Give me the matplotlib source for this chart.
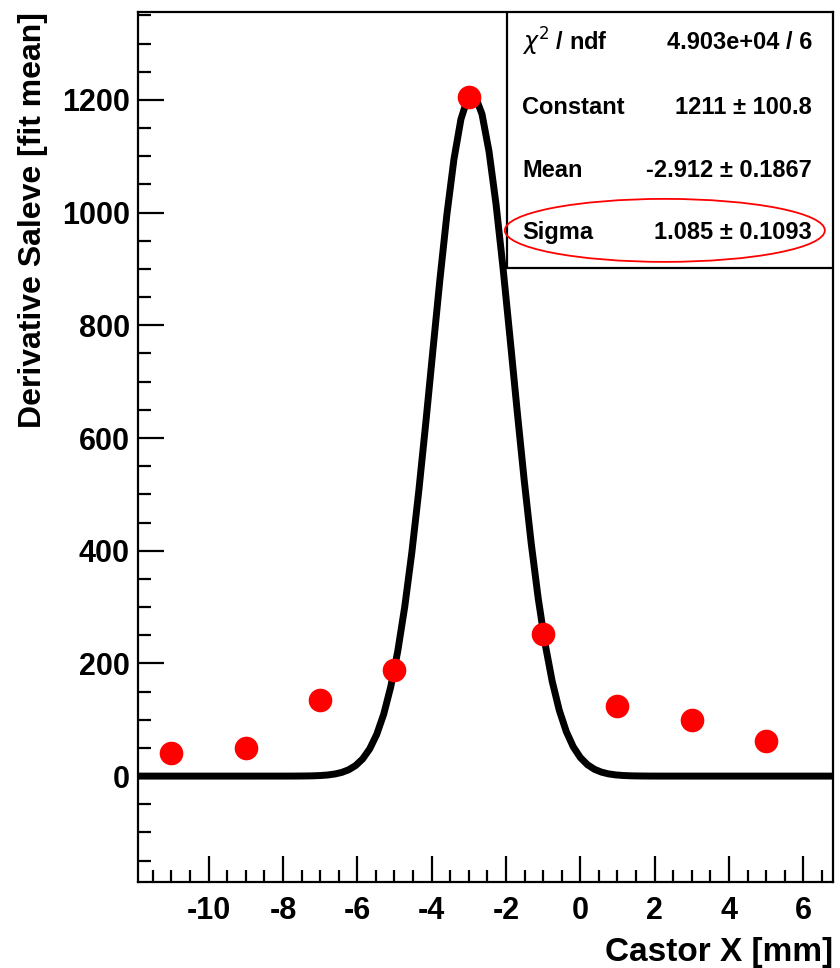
import numpy as np
import matplotlib.pyplot as plt
from matplotlib.patches import Rectangle, Ellipse
from matplotlib.ticker import MultipleLocator

plt.rcParams['font.family'] = ['Liberation Sans', 'DejaVu Sans']
plt.rcParams['axes.unicode_minus'] = False

# measured points
castor_x = [-11, -9, -7, -5, -3, -1, 1, 3, 5]
saleve = [41, 50, 135, 188, 1205, 252, 124, 99, 62]

# gaussian fit parameters (from the stats box)
fit_const, fit_mean, fit_sigma = 1211.0, -2.912, 1.085
stat_labels = [r"$\chi^{2}$ / ndf", "Constant", "Mean", "Sigma"]
stat_values = ["4.903e+04 / 6", "1211 \u00b1 100.8", "-2.912 \u00b1 0.1867", "1.085 \u00b1 0.1093"]

xmin, xmax = -11.9, 6.8
ymin, ymax = -188, 1356

fig = plt.figure(figsize=(8.4, 9.68), dpi=100)
ax = fig.add_axes([0.1643, 0.0888, 0.8274, 0.8988])

xf = np.linspace(xmin, xmax, 100)
yf = fit_const * np.exp(-0.5 * ((xf - fit_mean) / fit_sigma) ** 2)
ax.plot(xf, yf, color='black', lw=5, zorder=2)
ax.plot(castor_x, saleve, 'o', color='red', ms=16, mec='red', zorder=3)

ax.set_xlim(xmin, xmax)
ax.set_ylim(ymin, ymax)
ax.xaxis.set_major_locator(MultipleLocator(2))
ax.xaxis.set_minor_locator(MultipleLocator(0.5))
ax.yaxis.set_major_locator(MultipleLocator(200))
ax.yaxis.set_minor_locator(MultipleLocator(50))
ax.tick_params(which='both', direction='in', width=1.6, labelsize=22, top=False, right=False)
ax.tick_params(which='major', length=19)
ax.tick_params(which='minor', length=9)
for lab in ax.get_xticklabels() + ax.get_yticklabels():
    lab.set_fontweight('bold')
ax.tick_params(axis='x', pad=10)
ax.tick_params(axis='y', pad=6)
for sp in ax.spines.values():
    sp.set_linewidth(1.6)

ax.set_xlabel("Castor X [mm]", fontsize=24, fontweight='bold', loc='right', labelpad=8)
ax.set_ylabel("Derivative Saleve [fit mean]", fontsize=23, fontweight='bold', loc='top', labelpad=10)

# stats box
ax.add_patch(Rectangle((0.531, 0.7057), 0.469, 0.2943, transform=ax.transAxes,
                       facecolor='white', edgecolor='black', lw=1.6, zorder=4))
rows_y = [0.9655, 0.8908, 0.8184, 0.7471]
for lab, val, yy in zip(stat_labels, stat_values, rows_y):
    ax.text(0.5525, yy, lab, transform=ax.transAxes, fontsize=17, fontweight='bold',
            va='center', ha='left', zorder=5)
    ax.text(0.9698, yy, val, transform=ax.transAxes, fontsize=17, fontweight='bold',
            va='center', ha='right', zorder=5)
ax.add_patch(Ellipse((0.758, 0.749), 0.4604, 0.0724, transform=ax.transAxes,
                     fill=False, edgecolor='red', lw=1.3, zorder=6))

fig.savefig("out.png", dpi=100)
